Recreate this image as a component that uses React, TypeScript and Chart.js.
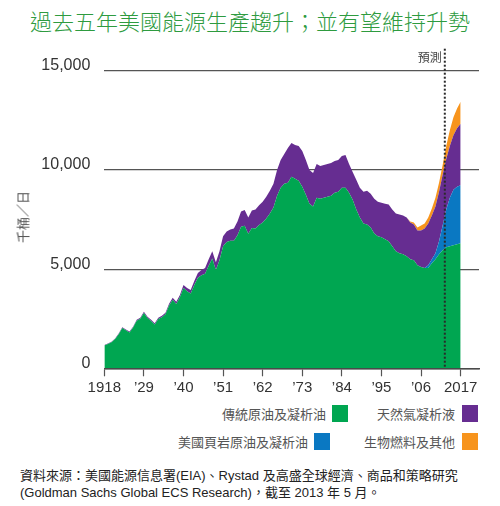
import React, { useEffect, useRef } from "react";
import { Chart, registerables } from "chart.js";

Chart.register(...registerables);

// ---- data (thousand barrels per day) ----
const START_YEAR = 1918;
const END_YEAR = 2017;

// 傳統原油及凝析油 (1918–2017)
const CONVENTIONAL = [
  1150, 1230, 1315, 1475, 1720, 2035, 1915, 1810, 2055, 2400,
  2495, 2790, 2540, 2390, 2210, 2480, 2575, 2720, 3160, 3450,
  3240, 3580, 4050, 3880, 3770, 4200, 4570, 4690, 4760, 5170,
  5530, 4950, 5450, 6150, 6370, 6430, 6430, 6700, 7140, 7180,
  6780, 7070, 7050, 7220, 7350, 7550, 7800, 8100, 8700, 9100,
  9300, 9350, 9650, 9550, 9450, 9150, 8750, 8300, 8150, 8600,
  8550, 8600, 8650, 8700, 8850, 8900, 9100, 9100, 8850, 8500,
  8000, 7600, 7300, 7250, 7100, 6800, 6650, 6600, 6500, 6400,
  6150, 5900, 5800, 5750, 5650, 5500, 5450, 5200, 5100, 5050,
  5050, 5300, 5500, 5750, 5950, 6100, 6150, 6200, 6250, 6300,
];

// 美國頁岩原油及凝析油 (2008–2017)
const SHALE_START = 2008;
const SHALE = [150, 200, 300, 650, 1250, 1900, 2450, 2800, 2900, 2930];

// 天然氣凝析液 (1918–2017)
const NGL = [
  20, 20, 25, 25, 30, 35, 35, 40, 45, 50,
  55, 60, 60, 60, 60, 70, 75, 80, 90, 100,
  110, 120, 150, 170, 180, 200, 230, 260, 290, 330,
  370, 400, 450, 500, 530, 570, 620, 700, 760, 800,
  820, 880, 950, 1000, 1050, 1100, 1150, 1200, 1300, 1400,
  1500, 1750, 1700, 1700, 1750, 1800, 1750, 1700, 1700, 1700,
  1650, 1650, 1650, 1650, 1600, 1600, 1600, 1650, 1450, 1400,
  1500, 1500, 1600, 1700, 1700, 1750, 1750, 1750, 1800, 1850,
  1850, 1900, 1950, 1950, 1950, 1850, 1800, 1750, 1850, 2000,
  2100, 2200, 2350, 2500, 2550, 2550, 2600, 2750, 2950, 3100,
];

// 生物燃料及其他 (2003–2017)
const BIO_START = 2003;
const BIOFUELS = [50, 100, 150, 250, 250, 300, 350, 450, 450, 500, 650, 800, 900, 1000, 1100];

const X_TICKS = [1918, 1929, 1940, 1951, 1962, 1973, 1984, 1995, 2006, 2017];
const Y_TICKS = [0, 5000, 10000, 15000];
const FORECAST_YEAR = 2012.6;
const X_MAX = 2022.1;

const TITLE = "過去五年美國能源生產趨升；並有望維持升勢";
const Y_TITLE = "千桶／日";
const FORECAST_LABEL = "預測";
const LABELS = ["傳統原油及凝析油", "美國頁岩原油及凝析油", "天然氣凝析液", "生物燃料及其他"];
const COLORS = ["#00A651", "#0a78c2", "#662D91", "#F7941D"];
const SOURCE_1 = "資料來源：美國能源信息署(EIA)、Rystad 及高盛全球經濟、商品和策略研究";
const SOURCE_2 = "(Goldman Sachs Global ECS Research)，截至 2013 年 5 月。";

const YEARS: number[] = [];
for (let y = START_YEAR; y <= END_YEAR; y++) YEARS.push(y);

function fullSeries(values: number[], start: number) {
  return YEARS.map((yr) => {
    const i = yr - start;
    return { x: yr, y: i >= 0 && i < values.length ? values[i] : 0 };
  });
}

const CJK = '"Noto Sans CJK TC", "Noto Sans CJK SC", sans-serif';
const LATIN = '"Liberation Sans", Arial, "Noto Sans CJK TC", sans-serif';

const forecastPlugin = {
  id: "forecast",
  afterDatasetsDraw(chart: any) {
    const { ctx, chartArea, scales } = chart;
    const x = scales.x.getPixelForValue(FORECAST_YEAR);
    ctx.save();
    ctx.strokeStyle = "#2a2a2a";
    ctx.lineWidth = 2;
    ctx.setLineDash([2, 2]);
    ctx.beginPath();
    ctx.moveTo(x, chartArea.top - 22);
    ctx.lineTo(x, chartArea.bottom);
    ctx.stroke();
    ctx.setLineDash([]);
    ctx.fillStyle = "#444";
    ctx.font = `12px ${CJK}`;
    ctx.textAlign = "right";
    ctx.textBaseline = "middle";
    ctx.fillText(FORECAST_LABEL, x - 3, chartArea.top - 13);
    ctx.restore();
  },
};

export default function App() {
  const ref = useRef<HTMLCanvasElement | null>(null);

  useEffect(() => {
    if (!ref.current) return;
    const chart = new Chart(ref.current, {
      type: "line",
      data: {
        datasets: [
          { label: LABELS[0], data: fullSeries(CONVENTIONAL, START_YEAR), backgroundColor: COLORS[0], borderColor: COLORS[0], fill: "origin" },
          { label: LABELS[1], data: fullSeries(SHALE, SHALE_START), backgroundColor: COLORS[1], borderColor: COLORS[1], fill: "-1" },
          { label: LABELS[2], data: fullSeries(NGL, START_YEAR), backgroundColor: COLORS[2], borderColor: COLORS[2], fill: "-1" },
          { label: LABELS[3], data: fullSeries(BIOFUELS, BIO_START), backgroundColor: COLORS[3], borderColor: COLORS[3], fill: "-1" },
        ].map((d) => ({ ...d, pointRadius: 0, borderWidth: 0, tension: 0 })),
      },
      options: {
        animation: false,
        responsive: false,
        events: [],
        layout: { padding: { top: 70.7, right: 21, left: 0, bottom: 0 } },
        plugins: { legend: { display: false }, tooltip: { enabled: false } },
        scales: {
          x: {
            type: "linear",
            min: START_YEAR,
            max: X_MAX,
            afterFit: (s: any) => { s.height = 31.7; },
            afterBuildTicks: (s: any) => { s.ticks = X_TICKS.map((v) => ({ value: v })); },
            grid: { display: true, drawOnChartArea: false, drawTicks: true, tickLength: 8, tickColor: "#555", tickWidth: 1.2 },
            border: { display: true, color: "#4a4a4a", width: 1.5 },
            ticks: {
              autoSkip: false,
              maxRotation: 0,
              padding: 3,
              color: "#333",
              font: { family: LATIN, size: 15 },
              callback: (v: any) => (v === START_YEAR || v === END_YEAR ? String(v) : "\u2019" + String(v).slice(2)),
            },
          },
          y: {
            type: "linear",
            stacked: true,
            min: 0,
            max: 15000,
            afterFit: (s: any) => { s.width = 104.3; },
            afterBuildTicks: (s: any) => { s.ticks = Y_TICKS.map((v) => ({ value: v })); },
            grid: { color: "#555", lineWidth: 1.2, drawTicks: false },
            border: { display: false },
            ticks: {
              padding: 14,
              labelOffset: -5,
              color: "#333",
              font: { family: LATIN, size: 16 },
              callback: (v: any) => Number(v).toLocaleString("en-US"),
            },
          },
        },
      },
      plugins: [forecastPlugin],
    } as any);
    return () => chart.destroy();
  }, []);

  const legend = [
    { i: 0, right: 326, sq: 332, y: 405 },
    { i: 2, right: 455, sq: 462, y: 405 },
    { i: 1, right: 308, sq: 314, y: 433 },
    { i: 3, right: 455, sq: 462, y: 433 },
  ];

  return (
    <div style={{ position: "absolute", left: 0, top: 0, width: 500, height: 506, background: "#fff", overflow: "hidden" }}>
      <div style={{ position: "absolute", left: 0, top: 6, width: 500, textAlign: "center", fontFamily: CJK, fontWeight: 300, fontSize: 22, lineHeight: "28px", color: "#2E9B3F", whiteSpace: "nowrap" }}>
        {TITLE}
      </div>
      <canvas ref={ref} width={500} height={400} style={{ position: "absolute", left: 0, top: 0, width: 500, height: 400 }} />
      <div style={{ position: "absolute", left: 22, top: 217, transform: "translate(-50%, -50%) rotate(-90deg)", fontFamily: CJK, fontSize: 13, color: "#555", whiteSpace: "nowrap" }}>
        {Y_TITLE}
      </div>
      {legend.map((l) => (
        <React.Fragment key={l.i}>
          <div style={{ position: "absolute", right: 500 - l.right, top: l.y, height: 17, lineHeight: "17px", fontFamily: CJK, fontSize: 13, color: "#555", whiteSpace: "nowrap" }}>
            {LABELS[l.i]}
          </div>
          <div style={{ position: "absolute", left: l.sq, top: l.y, width: 16, height: 17, background: COLORS[l.i] }} />
        </React.Fragment>
      ))}
      <div style={{ position: "absolute", left: 20, top: 467, fontFamily: LATIN, fontSize: 13, lineHeight: "17px", color: "#222", whiteSpace: "nowrap" }}>
        <div>{SOURCE_1}</div>
        <div>{SOURCE_2}</div>
      </div>
    </div>
  );
}
